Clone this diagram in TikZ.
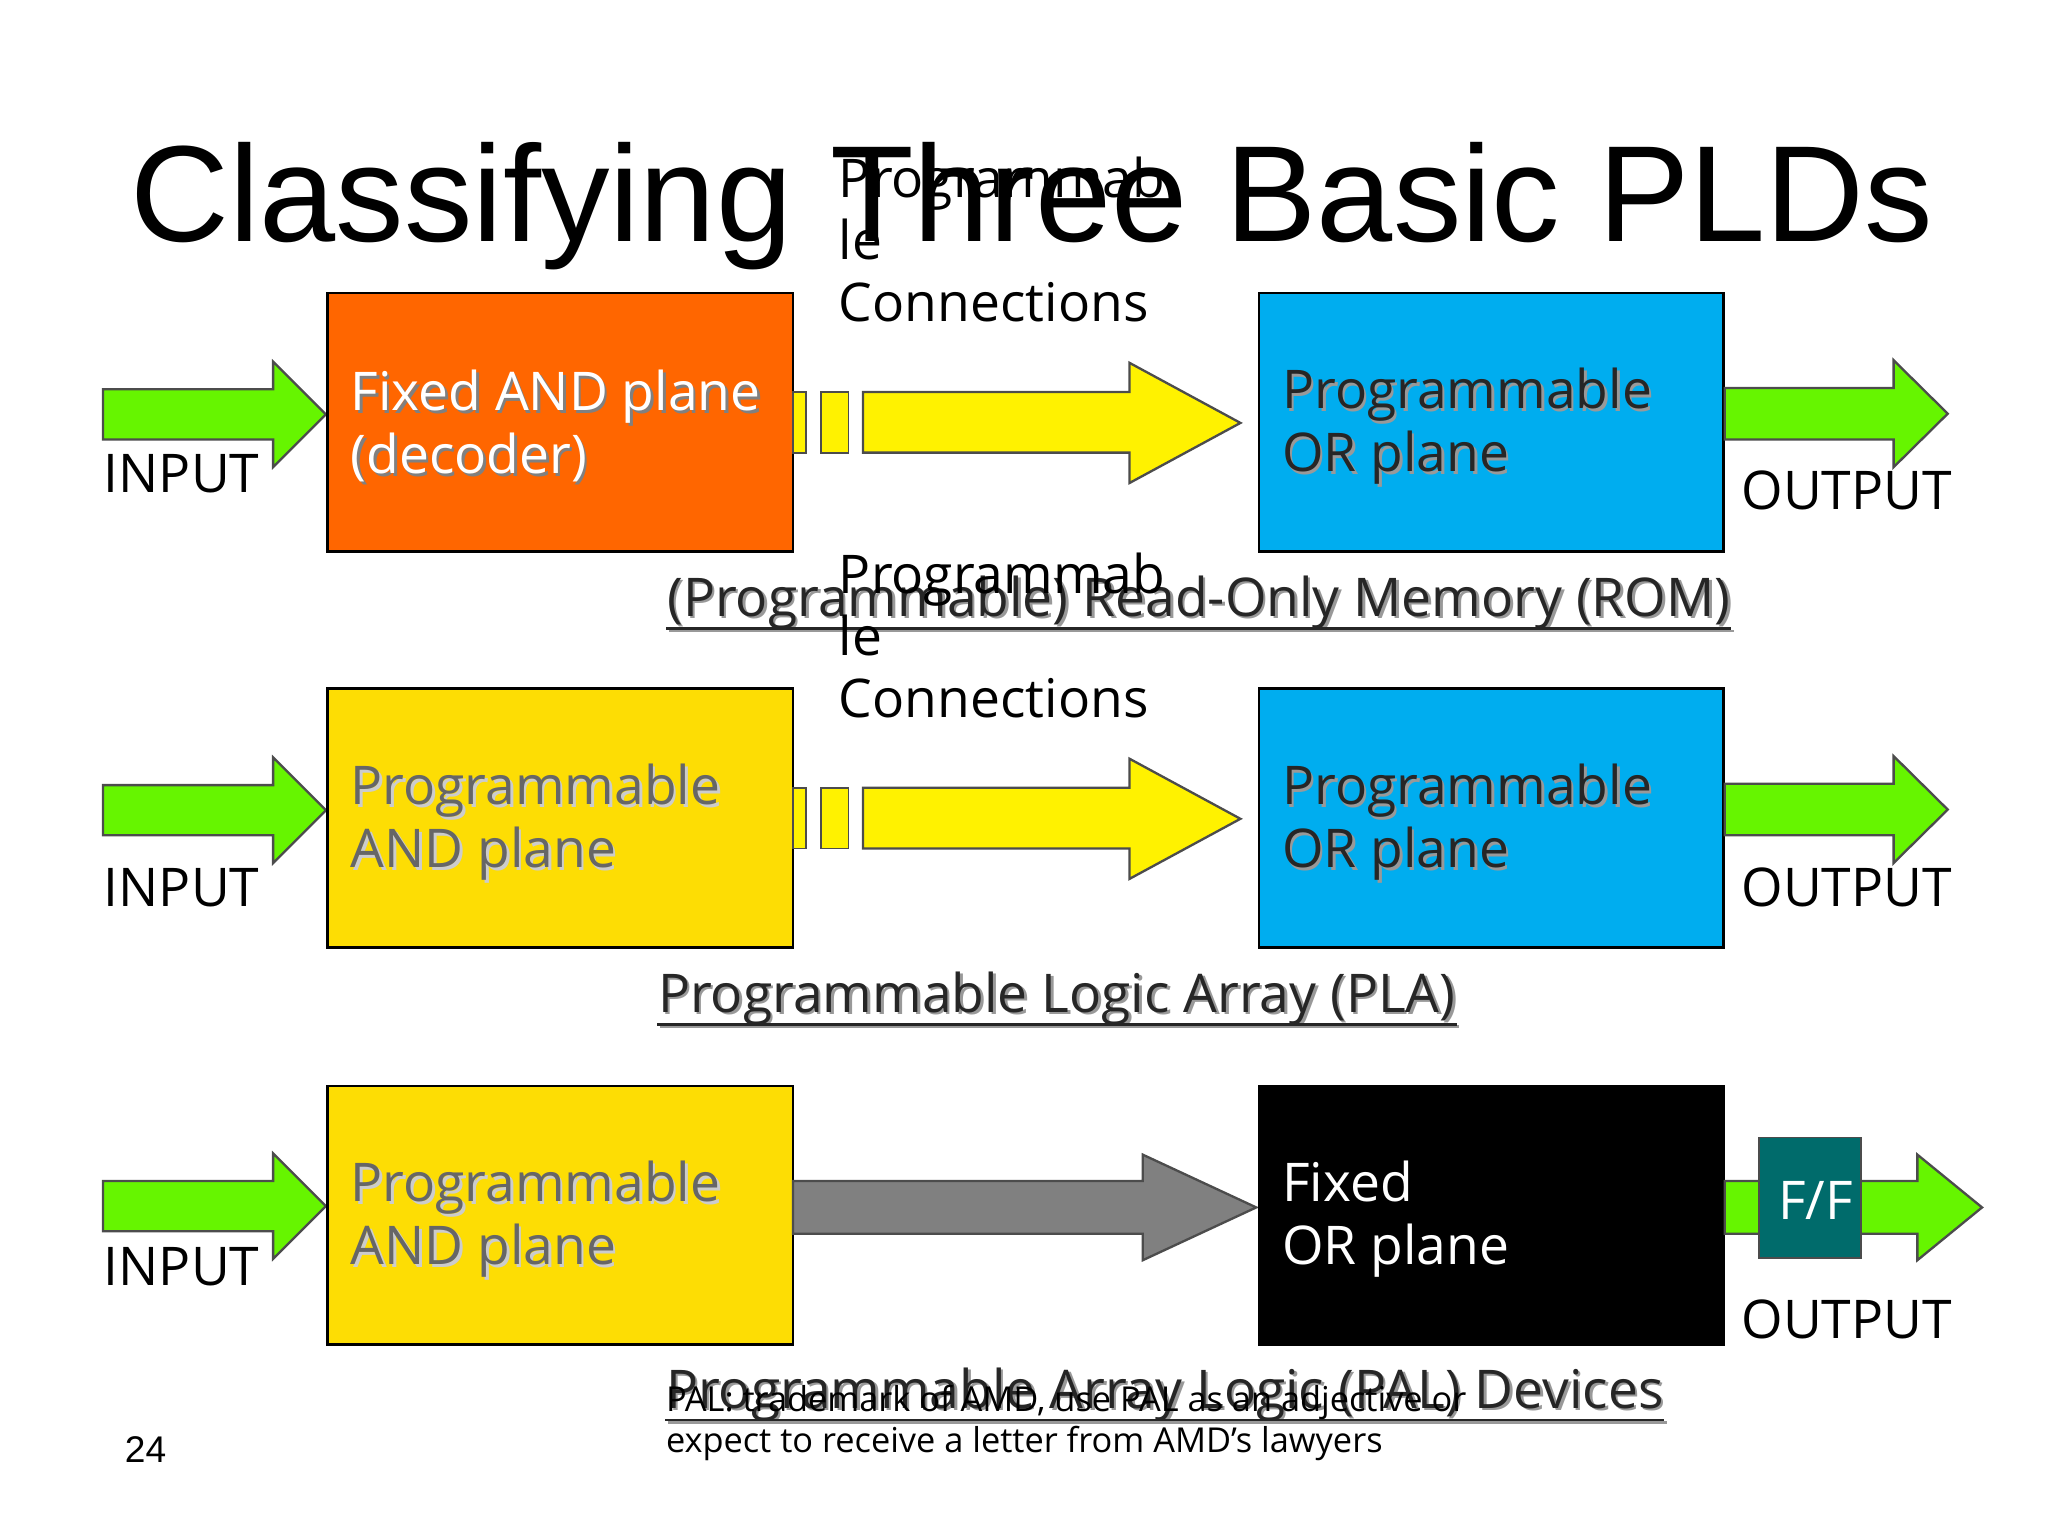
\documentclass[tikz,border=0pt]{standalone}
\usepackage{fontspec}
\setmainfont{Open Sans}
\newfontfamily\titlefont{Liberation Sans}
\newcommand\barrow[8]{%
 \filldraw[fill=#8,draw=black!70,line width=0.5pt] (#1,#4)--(#3,#4)--(#3,#6)--(#2,{(#6+#7)/2})--(#3,#7)--(#3,#5)--(#1,#5)--cycle;}
\colorlet{grn}{green!60!black!20!yellow!50!green}
\tikzset{
 box/.style={draw=black,line width=0.6pt,anchor=north west,inner sep=0pt},
 lbl/.style={anchor=west,font=\fontsize{11.5}{13.6}\selectfont,align=left,inner sep=0pt},
 io/.style={anchor=base west,font=\fontsize{11.5}{13}\selectfont,inner sep=0pt},
 captxt/.style={anchor=base west,font=\fontsize{11.5}{13}\selectfont,inner sep=0pt},
}
\newcommand\ul[2]{\draw[#2,line width=0.6pt] ([yshift=-2.6pt]#1.base west) -- ([yshift=-2.6pt]#1.base east);}
\begin{document}
\begin{tikzpicture}[x=0.01cm,y=-0.01cm]
\useasboundingbox (0,0) rectangle (1552,1164);
\node[anchor=base,font=\titlefont\fontsize{29.5}{30}\selectfont,inner sep=0pt] (title) at (782,183) {Classifying Three Basic PLDs};
% ---- Row 1 ROM
\barrow{78}{247}{207}{295}{333}{274}{354}{grn}
\node[io] (in1) at (78,373) {INPUT};
\path[box,fill=orange!80!red] (248,222) rectangle (601,418);
\node[lbl,text=black!50] at (267,325) {Fixed AND plane\\(decoder)};
\node[lbl,text=white] (b1a) at (265,323) {Fixed AND plane\\(decoder)};
\filldraw[fill=yellow,draw=black!70] (601,297) rectangle (611,343);
\filldraw[fill=yellow,draw=black!70] (622,297) rectangle (643,343);
\barrow{654}{940}{856}{297}{343}{275}{366}{yellow}
\node[anchor=base west,font=\fontsize{11.5}{13.4}\selectfont,align=left,inner sep=0pt] (c1) at (635,244) {Programmab\\le\\Connections};
\path[box,fill=cyan] (954,222) rectangle (1306,418);
\node[lbl,text=black!40] at (973,325) {Programmable\\OR plane};
\node[lbl,text=black!85] (b1b) at (971,323) {Programmable\\OR plane};
\barrow{1307}{1476}{1435}{294}{333}{273}{354}{grn}
\node[io] (out1) at (1319,386) {OUTPUT};
\node[captxt,text=black!40] (s1) at (507,469) {(Programmable) Read-Only Memory (ROM)};
\ul{s1}{black!40}
\node[captxt,text=black!85] (cap1) at (505,467) {(Programmable) Read-Only Memory (ROM)};
\ul{cap1}{black!85}
% ---- Row 2 PLA
\barrow{78}{247}{207}{595}{633}{574}{654}{grn}
\node[io] (in2) at (78,687) {INPUT};
\path[box,fill=yellow!80!orange] (248,522) rectangle (601,718);
\node[lbl,text=black!20] at (267,625) {Programmable\\AND plane};
\node[lbl,text=black!60] (b2a) at (265,623) {Programmable\\AND plane};
\filldraw[fill=yellow,draw=black!70] (601,597) rectangle (611,643);
\filldraw[fill=yellow,draw=black!70] (622,597) rectangle (643,643);
\barrow{654}{940}{856}{597}{643}{575}{666}{yellow}
\node[anchor=base west,font=\fontsize{11.5}{13.4}\selectfont,align=left,inner sep=0pt] (c2) at (635,544) {Programmab\\le\\Connections};
\path[box,fill=cyan] (954,522) rectangle (1306,718);
\node[lbl,text=black!40] at (973,625) {Programmable\\OR plane};
\node[lbl,text=black!85] (b2b) at (971,623) {Programmable\\OR plane};
\barrow{1307}{1476}{1435}{594}{633}{573}{654}{grn}
\node[io] (out2) at (1319,687) {OUTPUT};
\node[captxt,text=black!40] (s2) at (500,769) {Programmable Logic Array (PLA)};
\ul{s2}{black!40}
\node[captxt,text=black!85] (cap2) at (498,767) {Programmable Logic Array (PLA)};
\ul{cap2}{black!85}
% ---- Row 3 PAL
\barrow{78}{247}{207}{895}{933}{874}{954}{grn}
\node[io] (in3) at (78,974) {INPUT};
\path[box,fill=yellow!80!orange] (248,823) rectangle (601,1019);
\node[lbl,text=black!20] at (267,926) {Programmable\\AND plane};
\node[lbl,text=black!60] (b3a) at (265,924) {Programmable\\AND plane};
\barrow{601}{952}{866}{895}{935}{875}{955}{black!50}
\path[box,fill=black] (954,823) rectangle (1306,1019);
\node[lbl,text=white] (b3b) at (971,924) {Fixed\\OR plane};
\barrow{1307}{1502}{1453}{895}{935}{875}{955}{grn}
\filldraw[fill=teal!80!cyan!70!black,draw=black!70] (1333,862) rectangle (1410,953);
\node[font=\fontsize{11.5}{13}\selectfont,text=white,inner sep=0pt] (ff) at (1376,910) {F/F};
\node[io] (out3) at (1319,1014) {OUTPUT};
\node[captxt,text=black!40] (s3) at (506,1069) {Programmable Array Logic (PAL) Devices};
\ul{s3}{black!40}
\node[captxt,text=black!85] (cap3) at (504,1067) {Programmable Array Logic (PAL) Devices};
\ul{cap3}{black!85}
\node[anchor=base west,font=\fontsize{7.4}{9}\selectfont,align=left,inner sep=0pt] (note) at (504,1101) {PAL: trademark of AMD, use PAL as an adjective or\\expect to receive a letter from AMD’s lawyers};
\node[anchor=base west,font=\titlefont\fontsize{8}{9}\selectfont,inner sep=0pt] (pg) at (94,1108) {24};
\end{tikzpicture}
\end{document}
